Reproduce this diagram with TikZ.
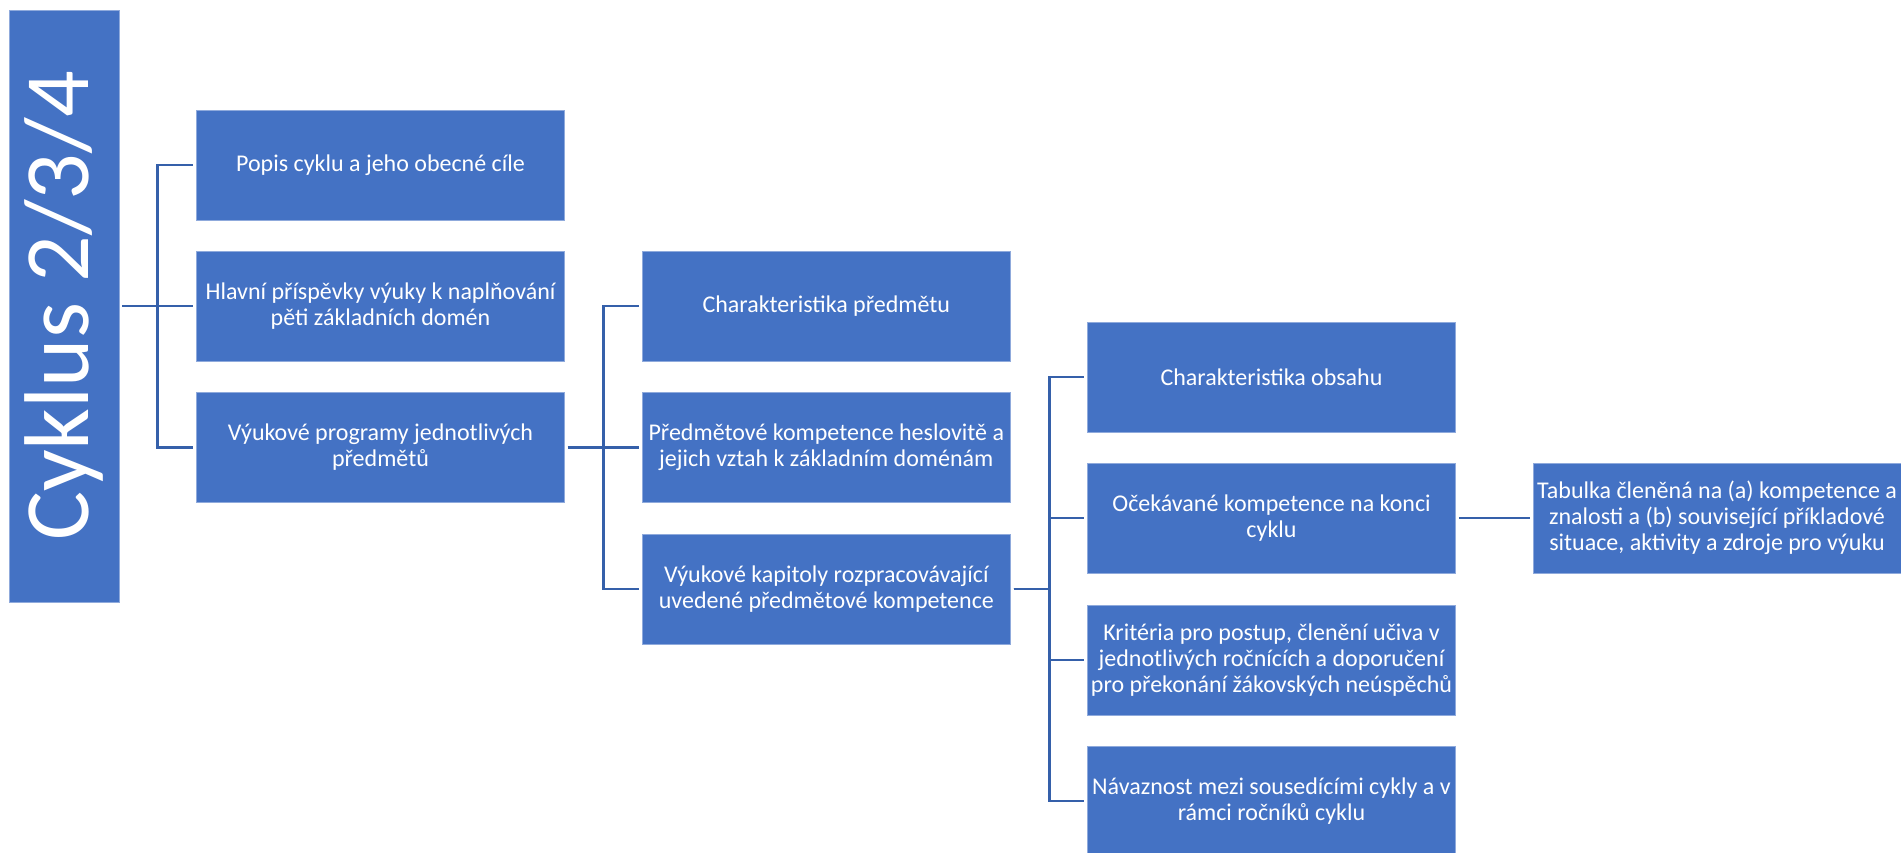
\documentclass[tikz,border=0pt]{standalone}
\usepackage{fontspec}
\setmainfont{Carlito}
\definecolor{boxblue}{HTML}{4472C4}
\definecolor{boxedge}{HTML}{8FAADC}
\definecolor{linkblue}{HTML}{3560AA}
\tikzset{
  card/.style={fill=boxblue, draw=boxedge, line width=0.6pt, inner sep=0pt,
    minimum width=368pt, minimum height=110pt, text=white, align=center,
    font=\fontsize{24}{26}\selectfont},
  link/.style={draw=linkblue, line width=2.8pt, shorten <=3pt, shorten >=3pt}
}
\begin{document}
\begin{tikzpicture}[x=1pt, y=1pt]
  \useasboundingbox (0,0) rectangle (1901,-852);
  \clip (0,0) rectangle (1901,-852);

  % root
  \node[card, minimum width=110pt, minimum height=592pt] (cyk) at (64,-306)
    {\rotatebox{90}{\fontsize{92}{92}\selectfont Cyklus 2/3/4}};

  % first level
  \node[card] (a1) at (380.5,-165) {Popis cyklu a jeho obecné cíle};
  \node[card] (a2) at (380.5,-306) {Hlavní příspěvky výuky k naplňování\\pěti základních domén};
  \node[card] (a3) at (380.5,-447.3) {Výukové programy jednotlivých\\předmětů};

  % second level
  \node[card] (b1) at (826.3,-306) {Charakteristika předmětu};
  \node[card] (b2) at (826.3,-447.5) {Předmětové kompetence heslovitě a\\jejich vztah k základním doménám};
  \node[card] (b3) at (826.3,-589) {Výukové kapitoly rozpracovávající\\uvedené předmětové kompetence};

  % third level
  \node[card] (c1) at (1271.5,-377) {Charakteristika obsahu};
  \node[card] (c2) at (1271.5,-518) {Očekávané kompetence na konci\\cyklu};
  \node[card] (c3) at (1271.5,-660) {Kritéria pro postup, členění učiva v\\jednotlivých ročnících a doporučení\\pro překonání žákovských neúspěchů};
  \node[card] (c4) at (1271.5,-801) {Návaznost mezi sousedícími cykly a v\\rámci ročníků cyklu};

  % fourth level
  \node[card] (d1) at (1717,-518) {Tabulka členěná na (a) kompetence a\\znalosti a (b) související příkladové\\situace, aktivity a zdroje pro výuku};

  % connectors
  \foreach \c in {a1,a2,a3}
    \draw[link] (cyk.east) -- ++(38,0) |- (\c.west);
  \foreach \c in {b1,b2,b3}
    \draw[link] (a3.east) -- ++(38.5,0) |- (\c.west);
  \foreach \c in {c1,c2,c3,c4}
    \draw[link] (b3.east) -- ++(38.5,0) |- (\c.west);
  \draw[link] (c2.east) -- (d1.west);
\end{tikzpicture}
\end{document}
